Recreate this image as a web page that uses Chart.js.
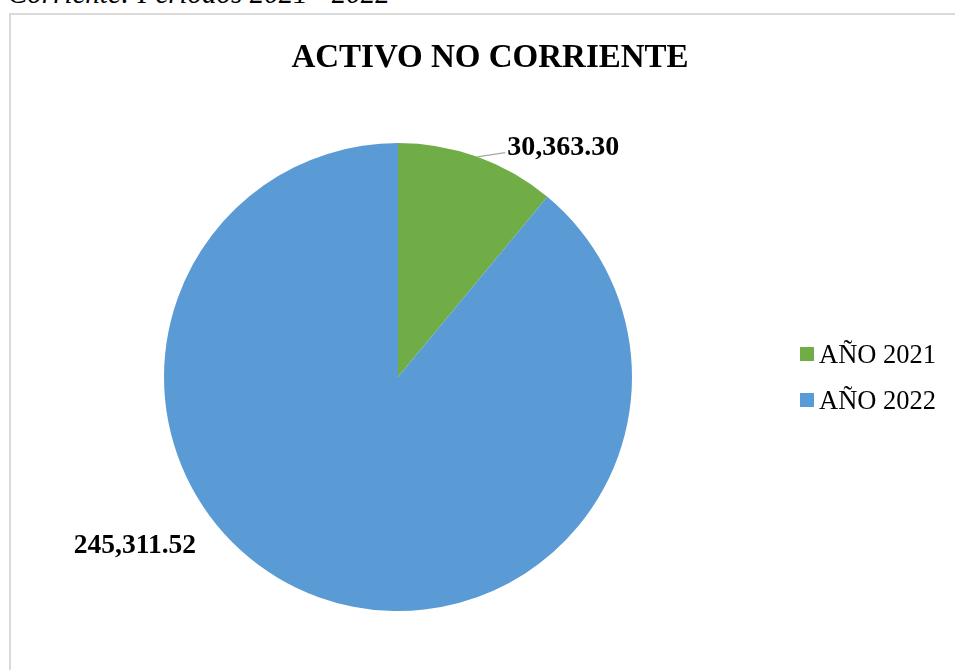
<!DOCTYPE html>
<html>
<head>
<meta charset="utf-8">
<script src="https://cdn.jsdelivr.net/npm/chart.js@4.4.0/dist/chart.umd.min.js"></script>
<style>
  html, body { margin: 0; padding: 0; width: 955px; height: 670px; overflow: hidden; background: #ffffff; }
  #caption { position: absolute; left: 8px; top: -22px; font-family: "Liberation Serif", "Times New Roman", serif; font-style: italic; font-size: 29px; color: #000; white-space: nowrap; line-height: 30px; }
  #box { position: absolute; left: 9px; top: 13px; width: 960px; height: 700px; border-top: 2px solid #d9d9d9; border-left: 2px solid #d9d9d9; }
  #wrap { position: absolute; left: 0; top: 0; width: 958px; height: 655px; }
</style>
</head>
<body>
<div id="caption">Corriente: Periodos 2021 - 2022</div>
<div id="box"><div id="wrap"><canvas id="c" width="958" height="655"></canvas></div></div>
<script>
const chartTitle = "ACTIVO NO CORRIENTE";
const categories = ["AÑO 2021", "AÑO 2022"];
const values = [30363.30, 245311.52];
const valueLabels = ["30,363.30", "245,311.52"];
const colors = ["#70ad47", "#5b9bd5"];

const serif = '"Liberation Serif", "Times New Roman", serif';

const decor = {
  id: 'decor',
  afterDraw(chart) {
    const ctx = chart.ctx;
    ctx.save();
    // title
    ctx.fillStyle = '#000';
    ctx.font = 'bold 33px ' + serif;
    ctx.textAlign = 'center';
    ctx.textBaseline = 'alphabetic';
    ctx.fillText(chartTitle, chart.width / 2, 52);

    // data labels
    const meta = chart.getDatasetMeta(0);
    const a0 = meta.data[0];
    const r = a0.outerRadius;
    const mid = (a0.startAngle + a0.endAngle) / 2;
    const px = a0.x + Math.cos(mid) * r;
    const py = a0.y + Math.sin(mid) * r;
    ctx.strokeStyle = '#a6a6a6';
    ctx.lineWidth = 1.3;
    ctx.beginPath();
    ctx.moveTo(px, py);
    ctx.lineTo(px + 26, py - 4);
    ctx.lineTo(px + 28, py - 4);
    ctx.stroke();
    ctx.font = 'bold 28px ' + serif;
    ctx.textAlign = 'left';
    ctx.fillText(valueLabels[0], px + 30, py - 2);

    const a1 = meta.data[1];
    ctx.font = 'bold 27.5px ' + serif;
    ctx.textAlign = 'center';
    ctx.fillText(valueLabels[1], a1.x - 1.124 * r, a1.y + 0.752 * r);

    // legend
    ctx.font = '26.5px ' + serif;
    ctx.textAlign = 'left';
    const lx = 789, ly = 332, gap = 46;
    chart.data.labels.forEach((lab, i) => {
      ctx.fillStyle = chart.data.datasets[0].backgroundColor[i];
      ctx.fillRect(lx, ly + i * gap, 14, 14);
      ctx.fillStyle = '#000';
      ctx.fillText(lab, lx + 19, ly + 16 + i * gap);
    });
    ctx.restore();
  }
};

new Chart(document.getElementById('c'), {
  type: 'pie',
  data: {
    labels: categories,
    datasets: [{
      data: values,
      backgroundColor: colors,
      borderWidth: 0,
      hoverOffset: 0
    }]
  },
  options: {
    responsive: false,
    animation: false,
    events: [],
    layout: { padding: { left: 153, right: 337, top: 128, bottom: 59 } },
    plugins: {
      legend: { display: false },
      title: { display: false },
      tooltip: { enabled: false }
    }
  },
  plugins: [decor]
});
</script>
</body>
</html>
